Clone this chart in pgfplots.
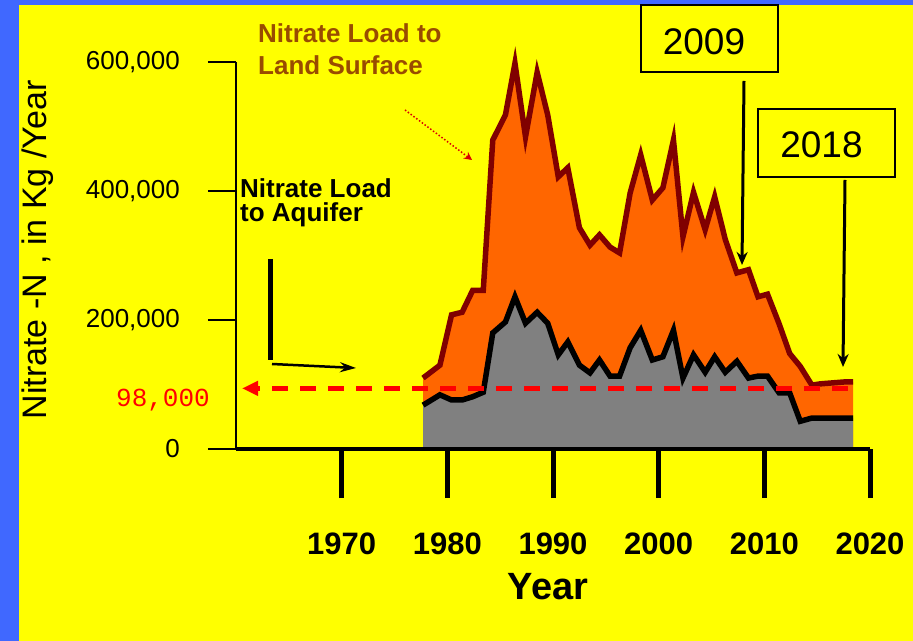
\documentclass[border=0pt]{standalone}
\usepackage{fontspec}
\setmainfont{Liberation Sans}
\newfontfamily\monofont{Liberation Mono}
\usepackage{pgfplots}
\usepackage{pgfplotstable}
\pgfplotsset{compat=1.18}
\usetikzlibrary{arrows.meta}
\definecolor{bgyellow}{RGB}{255,255,0}
\definecolor{bgblue}{RGB}{64,104,255}
\definecolor{landorange}{RGB}{255,102,0}
\definecolor{landline}{RGB}{128,0,0}
\definecolor{aqgray}{RGB}{128,128,128}
\definecolor{brownlbl}{RGB}{153,76,0}
\definecolor{lred}{RGB}{255,0,0}

\pgfplotstableread{
year land aquifer
1977.7 110000 68000
1979.3 130000 84000
1980.4 208000 76000
1981.4 212000 76000
1982.4 246000 81000
1983.4 246000 88000
1984.3 479000 180000
1985.5 518000 197000
1986.4 598000 236000
1987.4 484000 195000
1988.5 584000 212000
1989.5 518000 195000
1990.5 422000 146000
1991.4 436000 166000
1992.5 343000 130000
1993.5 316000 118000
1994.4 332000 138000
1995.4 313000 113000
1996.3 304000 113000
1997.3 397000 157000
1998.3 456000 184000
1999.4 386000 138000
2000.4 405000 143000
2001.4 479000 184000
2002.3 329000 110000
2003.3 398000 146000
2004.4 340000 119000
2005.3 391000 143000
2006.3 325000 119000
2007.4 273000 136000
2008.5 278000 110000
2009.4 236000 113000
2010.3 240000 113000
2011.4 194000 87000
2012.4 148000 87000
2013.4 128000 43000
2014.5 99000 48000
2015.3 101000 48000
2017.6 104000 48000
2018.4 104000 48000
}\loaddata

\begin{document}
\begin{tikzpicture}
\begin{scope}[shift={(-236bp,449bp)},x=1bp,y=-1bp]
\fill[bgyellow] (0,0) rectangle (913,641);
\fill[bgblue] (0,0) rectangle (19,641);
\fill[bgblue] (0,0) rectangle (913,5);
\useasboundingbox (0,0) rectangle (913,641);
\end{scope}

\begin{axis}[
  at={(0,0)}, anchor=south west,
  scale only axis, width=634bp, height=387bp,
  xmin=1960, xmax=2020, ymin=0, ymax=600000,
  axis lines=left, axis line style={-},
  x axis line style={line width=4bp},
  y axis line style={line width=1.5bp},
  xtick={1970,1980,...,2020},
  ytick={0,200000,400000,600000},
  tick align=outside, major tick length=49bp,
  xtick style={line width=5bp, black},
  ytick style={draw=none},
  scaled y ticks=false,
  yticklabel style={font=\fontsize{26bp}{30bp}\selectfont,
    /pgf/number format/fixed, /pgf/number format/precision=0,
    /pgf/number format/1000 sep={,},
    /pgf/number format/assume math mode=true,
    inner sep=0pt, xshift=-7bp},
  xticklabel style={font=\fontsize{31bp}{34bp}\selectfont\bfseries,
    /pgf/number format/1000 sep={},
    /pgf/number format/assume math mode=true,
    inner sep=0pt, yshift=-35bp},
  clip=false, axis on top,
  xlabel={Year},
  xlabel style={at={(axis description cs:0.492,-0.356)}, anchor=center, inner sep=0pt,
    font=\fontsize{38bp}{40bp}\selectfont\bfseries},
  ylabel={Nitrate -N , in Kg /Year},
  ylabel style={at={(axis description cs:-0.312,0.514)}, anchor=center, inner sep=0pt,
    font=\fontsize{34bp}{36bp}\selectfont},
]
\addplot[fill=landorange, draw=none] table[x=year,y=land]{\loaddata} \closedcycle;
\addplot[fill=aqgray, draw=none] table[x=year,y=aquifer]{\loaddata} \closedcycle;
\addplot[landline, line width=5.5bp] table[x=year,y=land]{\loaddata};
\addplot[black, line width=5.5bp] table[x=year,y=aquifer]{\loaddata};
\addplot[lred, line width=5bp, dash pattern=on 16bp off 12bp,
  -{Triangle[length=16bp,width=14bp]}] coordinates {(2017.9,94000) (1960.57,94000)};
\end{axis}

\begin{scope}[shift={(-236bp,449bp)},x=1bp,y=-1bp]
\foreach \yy in {62,191,320,449} {\draw[line width=1.5bp] (208,\yy) -- (236,\yy);}
\node[anchor=base west, inner sep=0pt, text=brownlbl, font=\fontsize{26bp}{30bp}\selectfont\bfseries] at (258,43) {Nitrate Load to};
\node[anchor=base west, inner sep=0pt, text=brownlbl, font=\fontsize{26bp}{30bp}\selectfont\bfseries] at (258,75) {Land Surface};
\node[anchor=base west, inner sep=0pt, font=\fontsize{26bp}{30bp}\selectfont\bfseries] at (240,198) {Nitrate Load};
\node[anchor=base west, inner sep=0pt, font=\fontsize{26bp}{30bp}\selectfont\bfseries] at (240,222) {to Aquifer};
\draw[line width=2.5bp, fill=bgyellow] (641,5) rectangle (778,72);
\node[inner sep=0pt, font=\fontsize{37bp}{40bp}\selectfont] at (704,41.5) {2009};
\draw[line width=2.5bp, fill=bgyellow] (758,109) rectangle (895,177);
\node[inner sep=0pt, font=\fontsize{37bp}{40bp}\selectfont] at (821.5,145) {2018};
\draw[line width=3bp, -{Stealth[length=13bp,width=11bp]}] (744,81) -- (742,265);
\draw[line width=3bp, -{Stealth[length=13bp,width=11bp]}] (845,180) -- (843,367);
\draw[red!85!black, line width=1.5bp, dotted, -{Stealth[length=8bp,width=8bp]}] (405,110) -- (472,160);
\draw[line width=5bp] (270,259) -- (270,360);
\draw[line width=2.5bp, -{Stealth[length=16bp,width=10bp]}] (272,364) -- (356,368);
\node[text=lred, inner sep=0pt, font=\monofont\fontsize{26bp}{30bp}\selectfont] at (163,400) {98,000};
\end{scope}
\end{tikzpicture}
\end{document}
